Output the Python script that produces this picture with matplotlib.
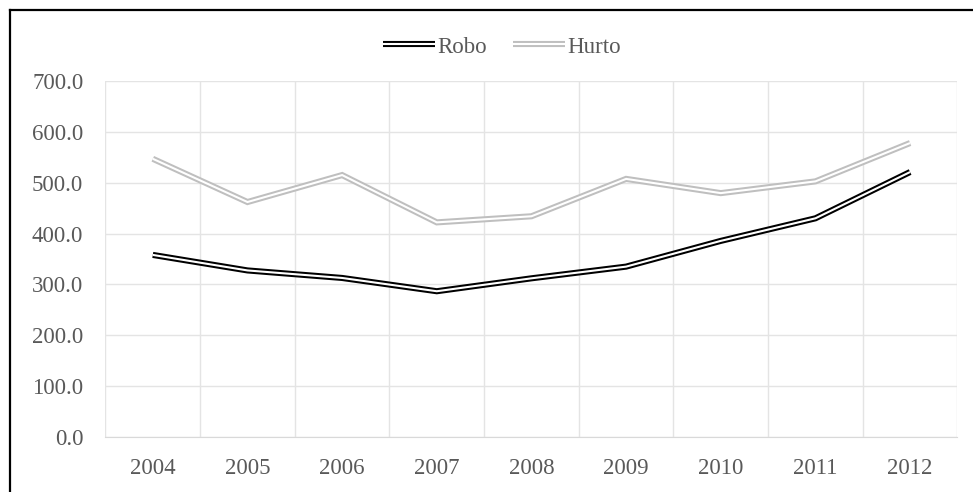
import matplotlib
matplotlib.use("Agg")
import matplotlib.pyplot as plt
from matplotlib.lines import Line2D

plt.rcParams['font.family'] = ['Liberation Serif', 'DejaVu Serif']

# yearly values per series
years = ['2004', '2005', '2006', '2007', '2008', '2009', '2010', '2011', '2012']
robo = [358.0, 327.5, 312.7, 286.6, 312.0, 335.0, 385.6, 430.0, 521.0]
hurto = [547.0, 462.0, 515.0, 422.0, 434.0, 507.5, 479.5, 502.6, 578.0]

text_color = '#595959'
grid_color = '#E4E4E4'

fig = plt.figure(figsize=(9.73, 4.92), dpi=100)
ax = fig.add_axes([0.1084, 0.1118, 0.8756, 0.7236])

x = list(range(len(years)))

# double-stroke lines: thick coloured line with a thin white core on top
handles = []
for vals, col, name in [(robo, '#000000', 'Robo'), (hurto, '#BFBFBF', 'Hurto')]:
    outer, = ax.plot(x, vals, color=col, lw=4.4, solid_joinstyle='miter',
                     solid_capstyle='butt', zorder=3)
    inner, = ax.plot(x, vals, color='white', lw=1.5, solid_joinstyle='miter',
                     solid_capstyle='butt', zorder=4)
    handles.append(((outer, inner), name))

ax.set_xlim(-0.5, len(years) - 0.5)
ax.set_ylim(0, 700)
ax.set_yticks(range(0, 701, 100))
ax.set_yticklabels([f'{v:.1f}' for v in range(0, 701, 100)])
ax.set_xticks(x)
ax.set_xticklabels(years)

# vertical gridlines sit between categories
ax.set_xticks([i - 0.5 for i in range(len(years) + 1)], minor=True)
ax.grid(axis='y', which='major', color=grid_color, lw=1.0, zorder=0)
ax.grid(axis='x', which='minor', color=grid_color, lw=1.0, zorder=0)
ax.tick_params(axis='both', which='both', length=0, labelsize=16.5, colors=text_color)
ax.tick_params(axis='y', pad=16)
ax.tick_params(axis='x', pad=15)

for side in ['top', 'right', 'left']:
    ax.spines[side].set_visible(False)
ax.spines['bottom'].set_color('#D9D9D9')

leg = ax.legend([h for h, _ in handles], [n for _, n in handles],
                loc='center', bbox_to_anchor=(502 / 973, 1 - 47 / 492),
                bbox_transform=fig.transFigure, ncol=2, frameon=False,
                fontsize=16.5, handlelength=2.3, handletextpad=0.1,
                columnspacing=1.1, borderpad=0)
for t in leg.get_texts():
    t.set_color(text_color)

# outer frame: only the left and top edges show
fig.add_artist(Line2D([9.5 / 973, 9.5 / 973], [0, 1 - 9.5 / 492],
                      transform=fig.transFigure, color='black', lw=1.6))
fig.add_artist(Line2D([9.5 / 973, 1], [1 - 9.5 / 492, 1 - 9.5 / 492],
                      transform=fig.transFigure, color='black', lw=1.6))

fig.savefig('out.png', dpi=100)
